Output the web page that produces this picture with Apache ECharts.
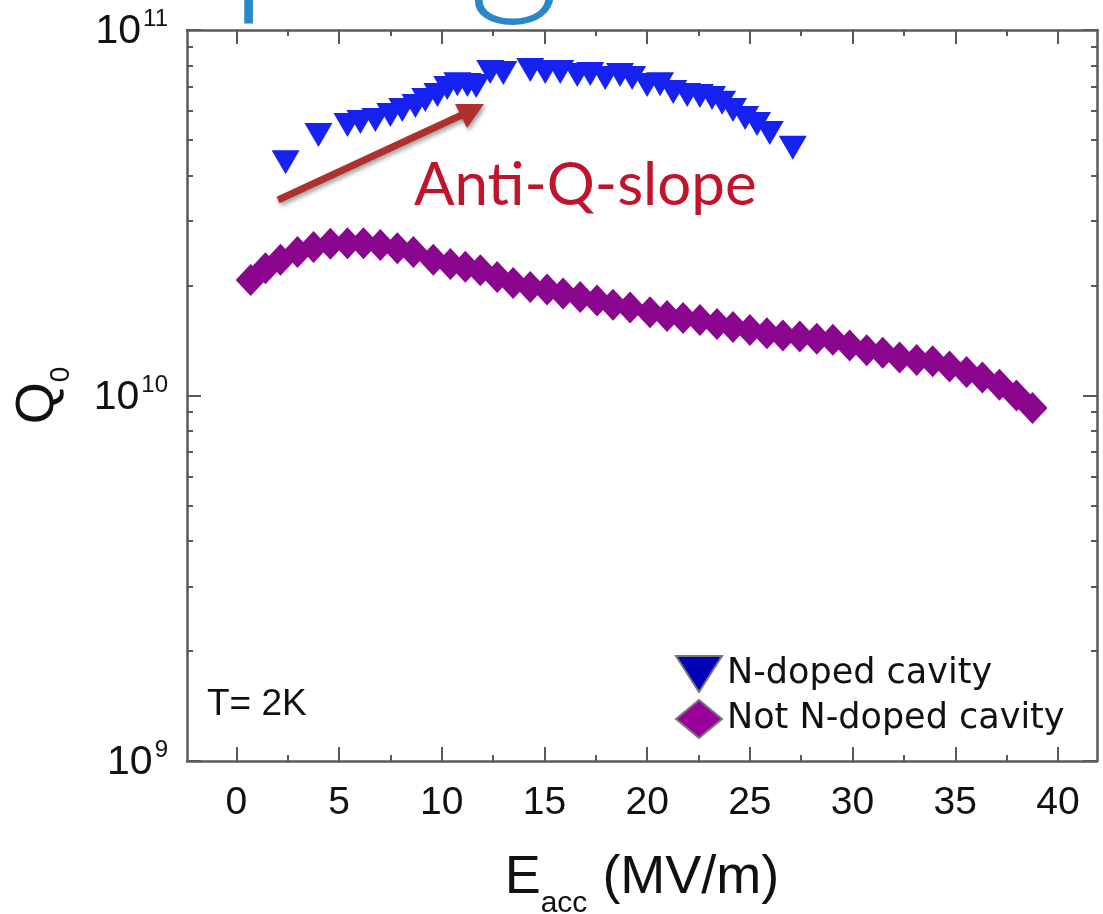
<!DOCTYPE html>
<html>
<head>
<meta charset="utf-8">
<script src="https://cdn.jsdelivr.net/npm/echarts@6/dist/echarts.min.js"></script>
<style>
html,body{margin:0;padding:0;background:#fff;}
#chart{width:1103px;height:914px;}
</style>
</head>
<body>
<div id="chart"></div>
<script>
// ---- data (E_acc in MV/m, Q0) ----
const nDopedE = [2.40,4.00,5.41,6.04,6.77,7.50,8.08,8.72,9.20,9.79,10.27,10.76,11.25,11.68,12.36,13.00,14.31,15.04,15.77,16.60,17.23,17.96,18.68,19.27,20.00,20.63,21.27,21.95,22.57,23.16,23.65,24.18,24.77,25.35,25.97,27.09];
const nDopedQ = [4.35e10,5.16e10,5.50e10,5.60e10,5.67e10,5.85e10,6.04e10,6.20e10,6.43e10,6.64e10,6.94e10,7.11e10,7.07e10,7.03e10,7.68e10,7.63e10,7.77e10,7.68e10,7.68e10,7.53e10,7.58e10,7.39e10,7.53e10,7.39e10,7.07e10,7.11e10,6.77e10,6.64e10,6.60e10,6.52e10,6.32e10,6.04e10,5.74e10,5.53e10,5.23e10,4.76e10];
const notDopedE = [0.70,1.42,2.15,2.98,3.76,4.58,5.41,6.19,7.01,7.84,8.62,9.59,10.42,11.15,11.88,12.70,13.48,14.31,15.13,15.91,16.74,17.56,18.34,19.17,20.14,20.97,21.75,22.57,23.40,24.18,25.00,25.83,26.61,27.43,28.26,29.04,29.86,30.69,31.47,32.29,33.12,33.90,34.72,35.55,36.32,37.15,37.98,38.76];
const notDopedQ = [2.07e10,2.23e10,2.35e10,2.47e10,2.55e10,2.60e10,2.61e10,2.61e10,2.58e10,2.53e10,2.47e10,2.35e10,2.29e10,2.25e10,2.20e10,2.11e10,2.03e10,1.98e10,1.95e10,1.90e10,1.86e10,1.82e10,1.77e10,1.74e10,1.69e10,1.65e10,1.63e10,1.61e10,1.57e10,1.54e10,1.51e10,1.48e10,1.46e10,1.45e10,1.43e10,1.42e10,1.37e10,1.33e10,1.31e10,1.27e10,1.25e10,1.24e10,1.20e10,1.16e10,1.12e10,1.07e10,1.00e10,9.25e9];
const seriesNames = ['N-doped cavity', 'Not N-doped cavity'];
const xMajorTicks = [0,5,10,15,20,25,30,35,40];
const xMinorTicks = [2.5,7.5,12.5,17.5,22.5,27.5,32.5,37.5];
const yMajorTicks = [1e9,1e10,1e11];
const yMinorTicks = [2e9,3e9,4e9,5e9,6e9,7e9,8e9,9e9,2e10,3e10,4e10,5e10,6e10,7e10,8e10,9e10];
const xRange = [-2.4, 41.9];
const yRange = [1e9, 1e11];

const pair = (xs, ys) => xs.map((x, i) => [x, ys[i]]);
const AX = '#5a5a5a';
const numFont = 'Liberation Sans';
const gridBox = {left: 187, right: 6, top: 30, bottom: 153, containLabel: false, outerBoundsMode: 'none'};

function xAxisDef(gridIndex, pos, ticks, len, showLine, showLabel) {
  return {
    type: 'value', gridIndex, position: pos, min: xRange[0], max: xRange[1],
    axisLine: {show: showLine, onZero: false, lineStyle: {color: AX, width: 2.5}},
    axisTick: {show: true, inside: true, length: len, customValues: ticks, lineStyle: {color: AX, width: 2}},
    axisLabel: {show: showLabel, customValues: xMajorTicks, margin: 23, color: '#111', fontFamily: numFont, fontSize: 39},
    splitLine: {show: false}
  };
}
function yAxisDef(gridIndex, pos, ticks, len, showLine, showLabel) {
  return {
    type: 'log', logBase: 10, gridIndex, position: pos, min: yRange[0], max: yRange[1],
    axisLine: {show: showLine, onZero: false, lineStyle: {color: AX, width: 2.5}},
    axisTick: {show: true, inside: true, length: len, customValues: ticks, lineStyle: {color: AX, width: 2}},
    axisLabel: {
      show: showLabel, customValues: yMajorTicks, margin: 19,
      formatter: v => '{b|10}{s|' + Math.round(Math.log10(v)) + '}',
      rich: {
        b: {fontFamily: numFont, fontSize: 41, color: '#111', verticalAlign: 'bottom'},
        s: {fontFamily: numFont, fontSize: 24, color: '#111', verticalAlign: 'bottom', padding: [0, 0, 21, 2]}
      }
    },
    splitLine: {show: false}
  };
}

const chart = echarts.init(document.getElementById('chart'), null, {renderer: 'canvas'});
const option = {
  backgroundColor: '#fff',
  animation: false,
  grid: [Object.assign({}, gridBox), Object.assign({}, gridBox)],
  xAxis: [
    Object.assign(xAxisDef(0, 'bottom', xMajorTicks, 14, true, true), {
      name: '{e|E}{sub|acc}{n| (MV/m)}', nameLocation: 'middle', nameGap: 90,
      nameTextStyle: {rich: {
        e: {fontFamily: numFont, fontSize: 54, color: '#111', verticalAlign: 'bottom'},
        sub: {fontFamily: numFont, fontSize: 30, color: '#111', verticalAlign: 'bottom', padding: [0, 0, -14, 0]},
        n: {fontFamily: numFont, fontSize: 54, color: '#111', verticalAlign: 'bottom'}
      }}
    }),
    xAxisDef(0, 'top', xMajorTicks, 14, true, false),
    xAxisDef(1, 'bottom', xMinorTicks, 6, false, false),
    xAxisDef(1, 'top', xMinorTicks, 6, false, false)
  ],
  yAxis: [
    Object.assign(yAxisDef(0, 'left', yMajorTicks, 14, true, true), {
      name: '{q|Q}{sub|0}', nameLocation: 'middle', nameGap: 122, nameRotate: 90,
      nameTextStyle: {rich: {
        q: {fontFamily: numFont, fontSize: 54, color: '#111', verticalAlign: 'bottom'},
        sub: {fontFamily: numFont, fontSize: 28, color: '#111', verticalAlign: 'bottom', padding: [0, 0, -10, 0]}
      }}
    }),
    yAxisDef(0, 'right', yMajorTicks, 14, true, false),
    yAxisDef(1, 'left', yMinorTicks, 6, false, false),
    yAxisDef(1, 'right', yMinorTicks, 6, false, false)
  ],
  legend: {
    orient: 'vertical', left: 670, top: 650, itemGap: 6,
    itemWidth: 46, itemHeight: 38,
    textStyle: {fontFamily: 'DejaVu Sans', fontSize: 35, color: '#111', padding: [0, 0, 0, 0]},
    data: [
      {name: seriesNames[0], icon: 'path://M0,0L46,0L23,36Z', itemStyle: {color: '#0000b8', borderColor: '#777', borderWidth: 2}},
      {name: seriesNames[1], icon: 'diamond', itemStyle: {color: '#9a009a', borderColor: '#777', borderWidth: 2}}
    ]
  },
  graphic: [
    {type: 'text', left: 30, top: -156, silent: true,
      style: {text: 'doping', fontFamily: 'Lato', fontWeight: 300, fontSize: 180, fill: '#2a88c8'}},
    {type: 'text', left: 414, top: 156, silent: true,
      style: {text: 'Anti-Q-slope', fontFamily: 'Lato', fontSize: 60, fill: '#c0142c'}},
    {type: 'text', left: 207, top: 686, silent: true,
      style: {text: 'T= 2K', fontFamily: numFont, fontSize: 37, fill: '#111'}},
    {type: 'line', silent: true,
      shape: {x1: 278, y1: 200, x2: 466, y2: 113},
      style: {stroke: '#b0302e', lineWidth: 7, shadowBlur: 4, shadowColor: 'rgba(0,0,0,0.35)', shadowOffsetX: 2, shadowOffsetY: 3}},
    {type: 'polygon', silent: true,
      shape: {points: [[484, 104], [455, 104], [467, 128]]},
      style: {fill: '#b0302e', shadowBlur: 4, shadowColor: 'rgba(0,0,0,0.35)', shadowOffsetX: 2, shadowOffsetY: 3}}
  ],
  series: [
    {
      name: seriesNames[0], type: 'scatter', xAxisIndex: 0, yAxisIndex: 0,
      symbol: 'triangle', symbolRotate: 180, symbolSize: [28, 24],
      itemStyle: {color: '#1622f0', opacity: 1},
      data: pair(nDopedE, nDopedQ)
    },
    {
      name: seriesNames[1], type: 'scatter', xAxisIndex: 0, yAxisIndex: 0,
      symbol: 'diamond', symbolSize: [30, 32],
      itemStyle: {color: '#8a068f', opacity: 1},
      data: pair(notDopedE, notDopedQ)
    }
  ]
};
chart.setOption(option);
</script>
</body>
</html>
